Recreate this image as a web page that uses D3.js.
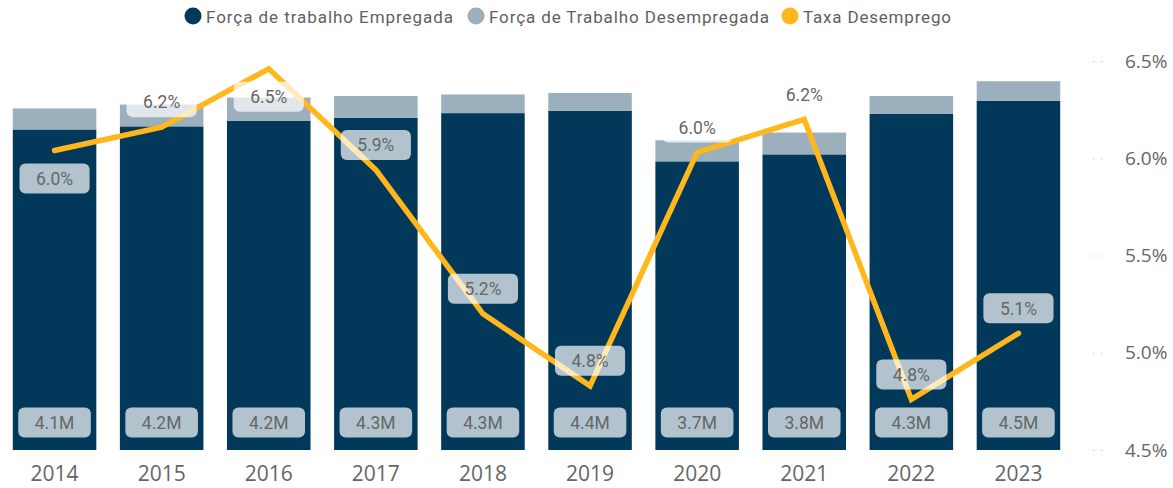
<!DOCTYPE html>
<html>
<head>
<meta charset="utf-8">
<script src="https://cdn.jsdelivr.net/npm/d3@7"></script>
<style>
  body { margin: 0; background: #fff; }
  svg { display: block; }
</style>
</head>
<body>
<script>
// Data

var years = ["2014", "2015", "2016", "2017", "2018", "2019", "2020", "2021", "2022", "2023"];

// millions of people
var empregada    = [4.12, 4.16, 4.23, 4.27, 4.33, 4.36, 3.71, 3.80, 4.32, 4.49];
var desempregada = [0.27, 0.28, 0.30, 0.28, 0.24, 0.23, 0.27, 0.28, 0.23, 0.25];

// unemployment rate, %
var taxa = [6.04, 6.16, 6.46, 5.94, 5.20, 4.83, 6.03, 6.20, 4.76, 5.10];

var rateTicks = [4.5, 5.0, 5.5, 6.0, 6.5];

var seriesNames = ["Força de trabalho Empregada", "Força de Trabalho Desempregada", "Taxa Desemprego"];

// rate labels that sit under the line point instead of over it
var labelBelow = ["2014", "2016"];

// 1. Size and colours

var width = 1173, height = 488;
var colEmp = "#02385a", colDes = "#9bafbd", colTaxa = "#ffb71b";
var textCol = "#666666";

var svg = d3.select("body").append("svg")
    .attr("width", width)
    .attr("height", height);

// 2. Scales

var x = d3.scaleBand()
    .domain(years)
    .range([1, 1072])
    .paddingInner(0.22)
    .paddingOuter(0.11);

var yLeft = d3.scaleLinear()
    .domain([0, 5])
    .range([450, 61]);

var yRight = d3.scaleLinear()
    .domain([4.5, 6.5])
    .range([450, 61]);

var rows = years.map(function(y, i) {
    return { year: y, emp: empregada[i], des: desempregada[i], taxa: taxa[i] };
});

// 3. Axes

var right = svg.append("g")
    .attr("transform", "translate(1093,0)")
    .call(d3.axisRight(yRight)
        .tickValues(rateTicks)
        .tickSize(13)
        .tickPadding(19)
        .tickFormat(function(d) { return d.toFixed(1) + "%"; }));
right.select(".domain").remove();
right.selectAll(".tick line")
    .attr("stroke", "#c8c8c8")
    .attr("stroke-dasharray", "1.5,6.5");
right.selectAll(".tick text")
    .attr("fill", textCol)
    .style("font-family", "'Segoe UI', 'Open Sans', sans-serif")
    .style("font-size", "19px");

var bottom = svg.append("g")
    .attr("transform", "translate(0,450)")
    .call(d3.axisBottom(x).tickSize(0).tickPadding(16));
bottom.select(".domain").remove();
bottom.selectAll(".tick text")
    .attr("fill", textCol)
    .style("font-family", "'Segoe UI', 'Open Sans', sans-serif")
    .style("font-size", "21px");

// 4. Stacked bars

var stack = d3.stack().keys(["emp", "des"])(rows);

svg.append("g").selectAll("g")
    .data(stack)
    .enter().append("g")
    .attr("fill", function(d) { return d.key == "emp" ? colEmp : colDes; })
    .selectAll("rect")
    .data(function(d) { return d; })
    .enter().append("rect")
    .attr("x", function(d) { return x(d.data.year); })
    .attr("width", x.bandwidth())
    .attr("y", function(d) { return yLeft(d[1]); })
    .attr("height", function(d) { return yLeft(d[0]) - yLeft(d[1]); });

// 5. Rate line

var line = d3.line()
    .x(function(d) { return x(d.year) + x.bandwidth() / 2; })
    .y(function(d) { return yRight(d.taxa); });

svg.append("path")
    .datum(rows)
    .attr("d", line)
    .attr("fill", "none")
    .attr("stroke", colTaxa)
    .attr("stroke-width", 5.5)
    .attr("stroke-linecap", "round");

// 6. Data labels (semi-transparent boxes)

var labelFont = "'DIN', Roboto, sans-serif";

function addLabel(cx, cy, txt) {
    var g = svg.append("g").attr("transform", "translate(" + cx + "," + cy + ")");
    var box = g.append("rect");
    var t = g.append("text")
        .attr("text-anchor", "middle")
        .attr("dy", "0.36em")
        .attr("fill", textCol)
        .style("font-family", labelFont)
        .style("font-size", "17.5px")
        .text(txt);
    var w = t.node().getComputedTextLength() + 33;
    box.attr("x", -w / 2).attr("y", -15)
        .attr("width", w).attr("height", 30)
        .attr("rx", 6)
        .attr("fill", "#ffffff")
        .attr("fill-opacity", 0.7);
}

rows.forEach(function(d) {
    var cx = x(d.year) + x.bandwidth() / 2;
    addLabel(cx, yLeft(0) - 27.5, d3.format(".1f")(d.emp) + "M");
});

rows.forEach(function(d) {
    var cx = x(d.year) + x.bandwidth() / 2;
    var py = yRight(d.taxa);
    var cy = labelBelow.indexOf(d.year) >= 0 ? py + 28 : py - 25;
    addLabel(cx, cy, d3.format(".1f")(d.taxa) + "%");
});

// 7. Legend

var legendX = [193, 476, 790];
var legendW = [247, 280, 148];
var legendCol = [colEmp, colDes, colTaxa];

var legend = svg.append("g");
seriesNames.forEach(function(name, i) {
    legend.append("circle")
        .attr("cx", legendX[i]).attr("cy", 16)
        .attr("r", 8.5)
        .attr("fill", legendCol[i]);
    legend.append("text")
        .attr("x", legendX[i] + 13)
        .attr("y", 22.5)
        .attr("fill", "#5f5f5f")
        .attr("textLength", legendW[i])
        .attr("lengthAdjust", "spacing")
        .style("font-family", labelFont)
        .style("font-size", "17px")
        .text(name);
});
</script>
</body>
</html>
